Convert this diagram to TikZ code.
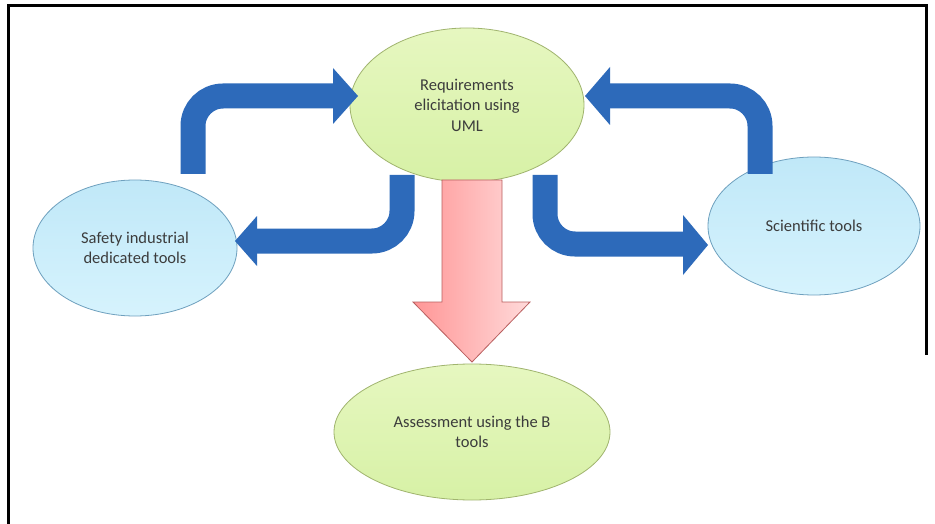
\documentclass[tikz,border=0pt]{standalone}
\usepackage{fontspec}
\setmainfont{Carlito}
\usetikzlibrary{shapes.geometric}
\definecolor{arrblue}{RGB}{45,106,186}
\definecolor{txtgray}{RGB}{60,60,60}
\definecolor{grntop}{RGB}{230,247,192}
\definecolor{grnbot}{RGB}{215,241,166}
\definecolor{grnline}{RGB}{160,180,110}
\definecolor{blutop}{RGB}{192,232,248}
\definecolor{blubot}{RGB}{214,243,253}
\definecolor{bluline}{RGB}{110,160,190}
\definecolor{redl}{RGB}{255,150,150}
\definecolor{redr}{RGB}{255,218,218}
\definecolor{redline}{RGB}{185,95,95}
\tikzset{
  ell/.style={ellipse, inner sep=0pt, align=center, text=txtgray,
    font=\fontsize{16.5}{20.5}\selectfont, line width=0.8pt},
  greenell/.style={ell, draw=grnline, top color=grntop, bottom color=grnbot},
  blueell/.style={ell, draw=bluline, top color=blutop, bottom color=blubot},
  shaft/.style={draw=arrblue, line width=25pt, line cap=butt, rounded corners=30pt},
  head/.style={fill=arrblue},
  bigarrow/.style={draw=redline, line width=0.8pt, left color=redl, right color=redr},
  frame/.style={line width=3pt}
}
\begin{document}
\begin{tikzpicture}[x=1pt,y=-1pt]
\useasboundingbox (0,0) rectangle (935,524);
\fill[white] (0,0) rectangle (935,524);
\draw[frame] (8,524) -- (8,6) -- (926,6) -- (926,355);

% ellipses
\node[greenell, minimum width=234pt, minimum height=154pt] (req) at (467,105)
  {Requirements\\elicitation using\\UML};
\node[blueell, minimum width=204pt, minimum height=136pt] (safe) at (135,248)
  {Safety industrial\\dedicated tools};
\node[blueell, minimum width=212pt, minimum height=138pt] (sci) at (814,226)
  {Scientific tools};
\node[greenell, minimum width=276pt, minimum height=136pt] (ass) at (472,432)
  {Assessment using the B\\tools};

% coordinates for the bent arrows
\coordinate (a1s) at (193,174);
\coordinate (a1e) at (334,96);
\coordinate (a2s) at (402,175);
\coordinate (a2e) at (256,241);
\coordinate (a3s) at (545,175);
\coordinate (a3e) at (684,244);
\coordinate (a4s) at (760,174);
\coordinate (a4e) at (609,96);

% safety -> requirements
\draw[shaft] (a1s) |- (a1e);
\fill[head] (333,68) -- (358,96) -- (333,124) -- cycle;
% requirements -> safety
\draw[shaft] (a2s) |- (a2e);
\fill[head] (257,216) -- (235,241) -- (257,266) -- cycle;
% requirements -> scientific
\draw[shaft] (a3s) |- (a3e);
\fill[head] (683,215) -- (708,245) -- (683,275) -- cycle;
% scientific -> requirements
\draw[shaft] (a4s) |- (a4e);
\fill[head] (610,67) -- (585,96) -- (610,125) -- cycle;

% big red arrow requirements -> assessment
\draw[bigarrow] (442,180) -- (502,180) -- (502,302) -- (530,302) -- (472,362)
  -- (413,302) -- (442,302) -- cycle;
\end{tikzpicture}
\end{document}
